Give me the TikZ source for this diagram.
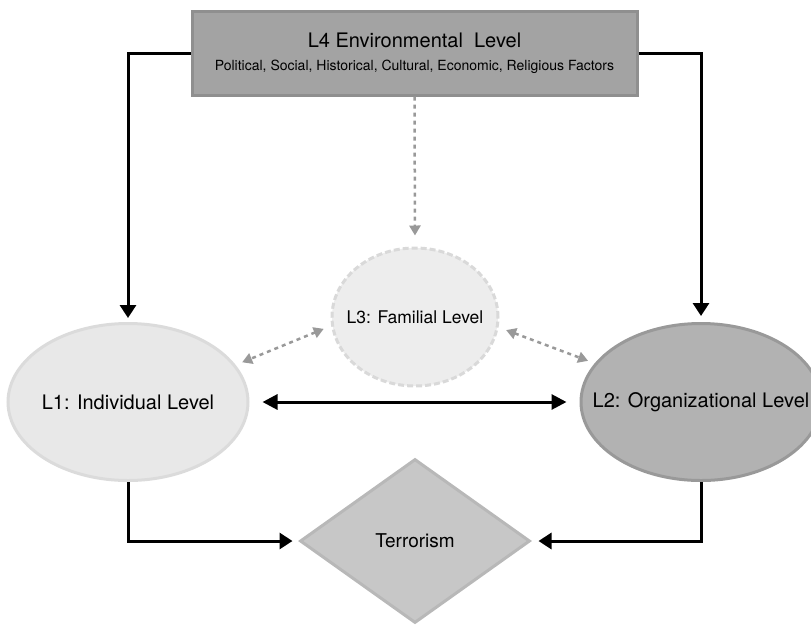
\documentclass[tikz,border=0pt]{standalone}
\usepackage{fontspec}
\setmainfont{TeX Gyre Heros}
\usetikzlibrary{positioning, shapes.geometric, arrows.meta}

\definecolor{envfill}{gray}{0.64}
\definecolor{envline}{gray}{0.56}
\definecolor{indfill}{gray}{0.91}
\definecolor{indline}{gray}{0.86}
\definecolor{orgfill}{gray}{0.70}
\definecolor{orgline}{gray}{0.60}
\definecolor{famfill}{gray}{0.93}
\definecolor{famline}{gray}{0.85}
\definecolor{terfill}{gray}{0.78}
\definecolor{terline}{gray}{0.72}
\definecolor{dashgray}{gray}{0.60}

% text that does not widen its ellipse
\newcommand{\levtext}[1]{\makebox[0pt]{#1}}

\tikzset{
  blacktip/.tip={Triangle[length=13pt,width=16pt]},
  graytip/.tip={Triangle[length=10pt,width=11pt]},
  levelnode/.style={ellipse, minimum width=240pt, minimum height=157pt, inner sep=0pt, line width=3pt, font=\fontsize{20}{24}\selectfont},
  blackarrow/.style={line width=3pt, -blacktip},
  grayarrow/.style={line width=2.5pt, draw=dashgray, dash pattern=on 4pt off 4pt}
}

\begin{document}
\begin{tikzpicture}[x=1pt, y=-1pt]
    \useasboundingbox (0,0) rectangle (811,625);

    % Levels
    \node[rectangle, minimum width=445pt, minimum height=84pt, fill=envfill, draw=envline, line width=3pt, align=center, font=\fontsize{14}{23}\selectfont] (l4) at (414.5,53)
      {{\fontsize{20}{24}\selectfont L4 Environmental~~Level}\\Political, Social, Historical, Cultural, Economic, Religious Factors};
    \node[levelnode, fill=indfill, draw=indline] (l1) at (128,402) {\levtext{L1: Individual Level}};
    \node[levelnode, fill=orgfill, draw=orgline] (l2) at (701,402) {\levtext{L2: Organizational Level}};
    \node[ellipse, minimum width=166pt, minimum height=138pt, inner sep=0pt, fill=famfill, draw=famline, line width=3pt, dash pattern=on 6pt off 3pt, font=\fontsize{17.5}{21}\selectfont] (l3) at (415,317) {\levtext{L3: Familial Level}};

    % Outcome
    \node[diamond, minimum width=230pt, minimum height=164pt, inner sep=0pt, fill=terfill, draw=terline, line width=3pt, font=\fontsize{19}{23}\selectfont] (terror) at (415,541) {Terrorism};

    % Environmental influences
    \draw[blackarrow, shorten >=4pt] (l4.west) -| (l1.north);
    \draw[blackarrow, shorten >=6pt] (l4.east) -| (l2.north);
    \draw[grayarrow, -graytip, shorten >=11pt] (l4.south) -- (l3.north);

    % Links between levels
    \draw[grayarrow, graytip-graytip, shorten <=8pt, shorten >=7pt] (l3.186) -- (l1.19);
    \draw[grayarrow, graytip-graytip, shorten <=8pt, shorten >=7pt] (l3.353) -- (l2.160);
    \draw[line width=3pt, {Triangle[length=15pt,width=15pt]}-{Triangle[length=15pt,width=15pt]}, shorten <=13pt, shorten >=13pt] (l1.east) -- (l2.west);

    % Paths to terrorism
    \draw[blackarrow, shorten >=6pt] (l1.south) |- (terror.west);
    \draw[blackarrow, shorten >=7pt] (l2.south) |- (terror.east);
\end{tikzpicture}
\end{document}
